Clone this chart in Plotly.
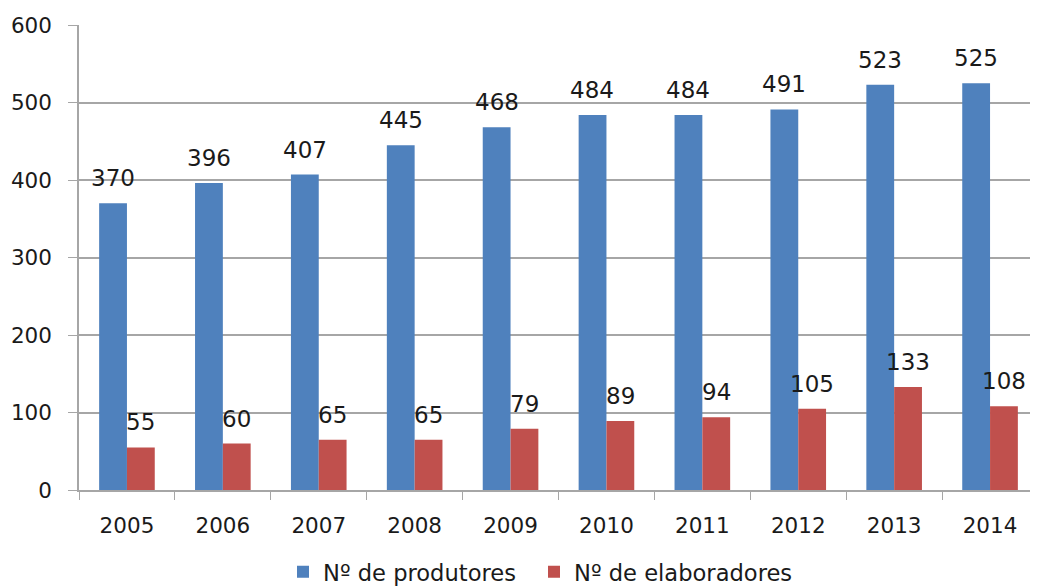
import plotly.graph_objects as go

years = ["2005", "2006", "2007", "2008", "2009", "2010", "2011", "2012", "2013", "2014"]
produtores = [370, 396, 407, 445, 468, 484, 484, 491, 523, 525]
elaboradores = [55, 60, 65, 65, 79, 89, 94, 105, 133, 108]

blue = "#4F81BD"
red = "#C0504D"
font_family = "DejaVu Sans"

fig = go.Figure()
fig.add_trace(go.Bar(x=years, y=produtores, name="Nº de produtores", legend="legend",
                     marker=dict(color=blue, line=dict(width=0))))
fig.add_trace(go.Bar(x=years, y=elaboradores, name="Nº de elaboradores", legend="legend2",
                     marker=dict(color=red, line=dict(width=0))))

annotations = []
for i, v in enumerate(produtores):
    annotations.append(dict(x=i, y=v, text=str(v), xshift=-14, yshift=10,
                            yanchor="bottom", showarrow=False,
                            font=dict(size=23, color="#1a1a1a", family=font_family)))
for i, v in enumerate(elaboradores):
    annotations.append(dict(x=i, y=v, text=str(v), xshift=14, yshift=10,
                            yanchor="bottom", showarrow=False,
                            font=dict(size=23, color="#1a1a1a", family=font_family)))

W, H = 1030, 580
legend_common = dict(orientation="h", yref="container", xref="container",
                     xanchor="left", y=16 / H, yanchor="middle",
                     font=dict(size=22.6), itemwidth=30, bgcolor="rgba(0,0,0,0)")

fig.update_layout(
    width=W, height=H,
    margin=dict(l=71, r=0, t=17, b=98, autoexpand=False),
    paper_bgcolor="white", plot_bgcolor="white",
    barmode="group", bargap=0.42, bargroupgap=0,
    font=dict(family=font_family, size=21, color="#1a1a1a"),
    showlegend=True,
    legend=dict(x=275 / W, **legend_common),
    legend2=dict(x=526 / W, **legend_common),
    annotations=annotations,
    xaxis=dict(type="category", range=[-0.5, 9.5],
               showgrid=False, showline=True, linecolor="#A6A6A6", linewidth=1.5,
               ticks="outside", tickson="boundaries", ticklen=8, tickcolor="#A6A6A6",
               tickfont=dict(size=21.5), tickangle=0, ticklabelstandoff=15),
    yaxis=dict(range=[0, 600], dtick=100, showgrid=True, gridcolor="#A6A6A6", gridwidth=1.5,
               showline=True, linecolor="#A6A6A6", linewidth=1.5, zeroline=False,
               ticks="outside", ticklen=9, tickcolor="#A6A6A6", tickfont=dict(size=21.5),
               ticklabelstandoff=12),
)

fig.write_html("out.html")
